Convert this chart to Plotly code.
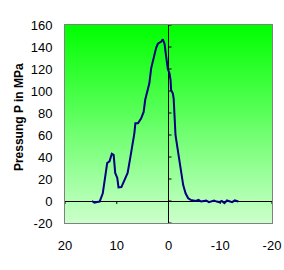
import base64, struct, zlib
import plotly.graph_objects as go

# ---- data ----
x_vals = [14.8, 14.3, 13.8, 13.3, 12.7, 12.2, 11.85, 11.4, 10.95, 10.6, 10.3, 9.9, 9.66, 9.1,
          8.5, 7.9, 7.4, 6.9, 6.6, 6.4, 5.9, 5.3, 4.8, 4.5, 4.0, 3.7, 3.35, 3.0, 2.7, 2.4, 2.05,
          1.4, 1.1, 0.77, 0.44, 0.33, 0.13, -0.2, -0.4, -0.5, -0.83, -1.0, -1.2, -1.35,
          -1.74, -2.0, -2.4, -2.84, -3.3, -3.8, -4.3, -4.8, -5.3, -5.8, -6.3, -6.8, -7.3, -7.8,
          -8.3, -8.8, -9.3, -9.8, -10.3, -10.8, -11.3, -11.8, -12.3, -12.8, -13.3, -13.5]
p_vals = [0, -1.5, -1, -0.5, 7, 21, 34.5, 36, 43, 42, 25.5, 21, 12.4, 12.7,
          19, 25.5, 39, 52.5, 61.5, 70.6, 70.6, 75, 81, 92, 101, 107, 120.6, 128, 134, 139, 143,
          145, 147, 143, 131, 125, 120, 116, 110, 101, 98, 93, 70, 60,
          48, 39, 30, 14.5, 7, 2.5, 1, 0.5, 0, 1, -0.5, 0, 0.5, -1,
          0, 0.5, -0.5, -1, 0, -2, 0.5, 0, -1, 0.5, 0, -0.5]
x_ticks = [20, 10, 0, -10, -20]
y_ticks = [-20, 0, 20, 40, 60, 80, 100, 120, 140, 160]
y_title = "Pressung P in MPa"

# ---- gradient background image (pure python PNG) ----
def make_png(colors):
    raw = b"".join(b"\x00" + bytes(c) for c in colors)
    def chunk(tag, data):
        c = struct.pack(">I", len(data)) + tag + data
        return c + struct.pack(">I", zlib.crc32(tag + data) & 0xffffffff)
    ihdr = struct.pack(">IIBBBBB", 1, len(colors), 8, 2, 0, 0, 0)
    return (b"\x89PNG\r\n\x1a\n" + chunk(b"IHDR", ihdr) +
            chunk(b"IDAT", zlib.compress(raw)) + chunk(b"IEND", b""))

n = 200
top = (0, 255, 0)
bot = (204, 255, 204)
cols = [tuple(int(round(top[k] + (bot[k] - top[k]) * i / (n - 1))) for k in range(3)) for i in range(n)]
img_uri = "data:image/png;base64," + base64.b64encode(make_png(cols)).decode()

fig = go.Figure()
fig.add_trace(go.Scatter(x=x_vals, y=p_vals, mode="lines",
                         line=dict(color="#000080", width=2), hoverinfo="skip"))

shapes = []
for t in x_ticks:
    shapes.append(dict(type="line", xref="x", yref="y", x0=t, x1=t, ysizemode="pixel",
                       yanchor=0, y0=0, y1=-3, line=dict(color="black", width=1)))
for t in y_ticks:
    shapes.append(dict(type="line", xref="x", yref="y", y0=t, y1=t, xsizemode="pixel",
                       xanchor=0, x0=0, x1=3, line=dict(color="black", width=1)))

fig.update_layout(
    width=284, height=270,
    margin=dict(l=65, r=12, t=25, b=47, autoexpand=False),
    paper_bgcolor="white", plot_bgcolor="rgba(0,0,0,0)",
    showlegend=False,
    font=dict(family="Liberation Sans, Arial, sans-serif", size=13, color="black"),
    images=[dict(source=img_uri, xref="paper", yref="paper", x=0, y=1, sizex=1, sizey=1,
                 sizing="stretch", layer="below", xanchor="left", yanchor="top")],
    shapes=shapes,
    annotations=[dict(text="<b>" + y_title + "</b>", xref="paper", yref="paper",
                      x=-0.222, y=0.535, xanchor="center", yanchor="middle",
                      textangle=-90, showarrow=False,
                      font=dict(size=12, family="Liberation Sans, Arial, sans-serif"))],
)
fig.update_xaxes(range=[20, -20], tickvals=x_ticks, ticktext=[str(v) for v in x_ticks],
                 showgrid=False, zeroline=True, zerolinecolor="black", zerolinewidth=1,
                 showline=True, mirror=True, linecolor="#808080", linewidth=1,
                 ticks="", ticklabelstandoff=10, automargin=False)
fig.update_yaxes(range=[-20, 160], tickvals=y_ticks, ticktext=[str(v) for v in y_ticks],
                 showgrid=False, zeroline=True, zerolinecolor="black", zerolinewidth=1,
                 showline=True, mirror=True, linecolor="#808080", linewidth=1,
                 ticks="", ticklabelstandoff=9, automargin=False)

fig.write_html("out.html")
